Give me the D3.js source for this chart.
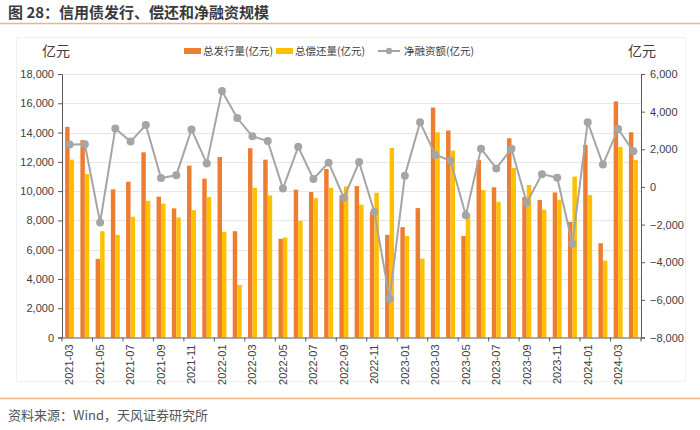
<!DOCTYPE html>
<html><head><meta charset="utf-8">
<script src="https://cdn.jsdelivr.net/npm/d3@7"></script>
<style>
body{margin:0;background:#fff;}
svg text{font-family:"Liberation Sans",Arial,"Noto Sans CJK SC",sans-serif;}
.cjk{font-family:"Noto Sans CJK SC","Liberation Sans",sans-serif;}
</style></head>
<body><svg id="c" width="700" height="430"></svg>
<script>
const months = ["2021-03","2021-04","2021-05","2021-06","2021-07","2021-08","2021-09","2021-10","2021-11","2021-12",
"2022-01","2022-02","2022-03","2022-04","2022-05","2022-06","2022-07","2022-08","2022-09","2022-10","2022-11","2022-12",
"2023-01","2023-02","2023-03","2023-04","2023-05","2023-06","2023-07","2023-08","2023-09","2023-10","2023-11","2023-12",
"2024-01","2024-02","2024-03","2024-04"];
const issuance = [14390,13480,5370,10120,10640,12650,9620,8820,11740,10850,
12330,7260,12930,12150,6740,10100,9940,11510,9710,10350,8570,7010,
7540,8840,15710,14140,6940,12130,10260,13610,9590,9390,9910,7900,
13160,6440,16130,14020];
const repayment = [12150,11170,7260,7010,8250,9340,9140,8200,8700,9590,
7220,3590,10230,9710,6830,7970,9520,10230,10320,9070,9890,12950,
6940,5390,14020,12770,8450,10070,9270,11580,10420,8730,9410,10990,
9730,5250,13020,12130];
const netFinancing = [2250,2270,-1890,3100,2410,3290,470,620,3050,1250,
5100,3660,2690,2440,-90,2130,420,1290,-580,1320,-1330,-5940,
590,3430,1700,1400,-1510,2030,980,2030,-840,680,490,-3020,
3440,1190,3080,1890];
const leftTicks = [0,2000,4000,6000,8000,10000,12000,14000,16000,18000];
const rightTicks = [-8000,-6000,-4000,-2000,0,2000,4000,6000];
const seriesNames = ["总发行量(亿元)","总偿还量(亿元)","净融资额(亿元)"];
const colors = {issue:"#ED7D31", repay:"#FFC000", net:"#A5A5A5"};

const svg = d3.select("#c");
const L = 62, R = 641, T = 74, B = 337.5;

// title & decorations
svg.append("text").attr("class","cjk").attr("x",8).attr("y",18).attr("font-size",15).attr("font-weight","bold")
  .attr("fill","#3a3a3a").text("图 28：信用债发行、偿还和净融资规模");
svg.append("line").attr("x1",0).attr("x2",700).attr("y1",23.5).attr("y2",23.5).attr("stroke","#F4B183").attr("stroke-width",1.5);
svg.append("rect").attr("x",16.5).attr("y",37.5).attr("width",669).attr("height",344).attr("fill","none").attr("stroke","#f0f0f0");
svg.append("line").attr("x1",0).attr("x2",700).attr("y1",398.5).attr("y2",398.5).attr("stroke","#F4B183").attr("stroke-width",1.5);
svg.append("text").attr("class","cjk").attr("x",8).attr("y",420).attr("font-size",13).attr("fill","#555").text("资料来源：Wind，天风证券研究所");

const x = d3.scaleBand().domain(months).range([L,R]).padding(0);
const x1 = d3.scaleBand().domain(["issue","repay"]).range([0,x.bandwidth()]).paddingInner(0).paddingOuter(0.7);
const yL = d3.scaleLinear().domain([0,18000]).range([B,T]);
const yR = d3.scaleLinear().domain([-8000,6000]).range([B,T]);

// grid
svg.append("g").selectAll("line").data(leftTicks.slice(1)).join("line")
  .attr("x1",L).attr("x2",R).attr("y1",d=>Math.round(yL(d))+0.5).attr("y2",d=>Math.round(yL(d))+0.5)
  .attr("stroke","#e6e6e6");

// bars
const data = months.map((m,i)=>({m, issue:issuance[i], repay:repayment[i], net:netFinancing[i]}));
const g = svg.append("g");
["issue","repay"].forEach(k=>{
  g.selectAll("rect."+k).data(data).join("rect").attr("class",k)
    .attr("x",d=>x(d.m)+x1(k)).attr("width",x1.bandwidth())
    .attr("y",d=>yL(d[k])).attr("height",d=>B-yL(d[k])).attr("fill",colors[k]);
});

// line
const line = d3.line().x(d=>x(d.m)+x.bandwidth()/2).y(d=>yR(d.net));
svg.append("path").datum(data).attr("d",line).attr("fill","none").attr("stroke",colors.net).attr("stroke-width",2);
svg.append("g").selectAll("circle").data(data).join("circle")
  .attr("cx",d=>x(d.m)+x.bandwidth()/2).attr("cy",d=>yR(d.net)).attr("r",4).attr("fill",colors.net);

// axes
const fmt = d3.format(",");
const ax = svg.append("g").attr("transform",`translate(${L},0)`)
  .call(d3.axisLeft(yL).tickValues(leftTicks).tickFormat(fmt).tickSize(4).tickPadding(4));
const ar = svg.append("g").attr("transform",`translate(${R},0)`)
  .call(d3.axisRight(yR).tickValues(rightTicks).tickFormat(fmt).tickSize(4).tickPadding(5));
[ax,ar].forEach(a=>{
  a.selectAll("path,line").attr("stroke","#595959");
  a.selectAll("text").attr("font-size",11).attr("fill","#404040");
});
const labelMonths = months.filter((m,i)=>i%2===0);
const ab = svg.append("g").attr("transform",`translate(0,${B})`)
  .call(d3.axisBottom(x).tickValues(labelMonths).tickSize(0).tickPadding(0));
ab.select("path").attr("stroke","#595959");
ab.selectAll("text").attr("font-size",11).attr("fill","#404040")
  .attr("transform","rotate(-90)").attr("text-anchor","end").attr("dy","0.35em")
  .attr("x",-7).attr("y",0);
ab.selectAll(".tick").attr("transform",d=>`translate(${x(d)+x.bandwidth()/2},0)`);
// category boundary ticks every 2 categories
svg.append("g").selectAll("line").data(labelMonths.concat(["end"])).join("line")
  .attr("x1",d=>d==="end"?R:x(d)).attr("x2",d=>d==="end"?R:x(d))
  .attr("y1",B).attr("y2",B+4).attr("stroke","#595959");

// units
svg.append("text").attr("class","cjk").attr("x",42).attr("y",56).attr("font-size",14).attr("fill","#404040").text("亿元");
svg.append("text").attr("class","cjk").attr("x",628).attr("y",56).attr("font-size",14).attr("fill","#404040").text("亿元");

// legend
const lg = svg.append("g");
const lx = [184, 276, 378];
lg.append("rect").attr("x",lx[0]).attr("y",48).attr("width",17).attr("height",6).attr("fill",colors.issue);
lg.append("rect").attr("x",lx[1]).attr("y",48).attr("width",17).attr("height",6).attr("fill",colors.repay);
lg.append("line").attr("x1",lx[2]).attr("x2",lx[2]+22).attr("y1",51).attr("y2",51).attr("stroke",colors.net).attr("stroke-width",2);
lg.append("circle").attr("cx",lx[2]+11).attr("cy",51).attr("r",3.2).attr("fill",colors.net);
[lx[0]+19, lx[1]+19, lx[2]+26].forEach((xx,i)=>{
  lg.append("text").attr("class","cjk").attr("x",xx).attr("y",55).attr("font-size",10.5).attr("fill","#404040").text(seriesNames[i]);
});
</script></body></html>
